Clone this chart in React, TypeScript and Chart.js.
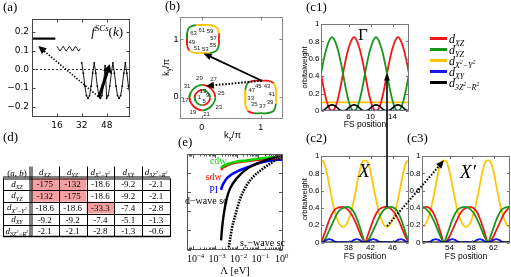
import React, { useEffect, useRef } from "react";
import { Chart, registerables } from "chart.js";

Chart.register(...registerables);

const W = 511;
const H = 277;
const SANS = '"Liberation Sans", Arial, sans-serif';
const SERIF = '"Liberation Serif", "DejaVu Serif", serif';
const DJV = '"DejaVu Sans", sans-serif';

/* ============================ DATA ============================ */

/* (a) form factor f^{SCs}(k) on the 64 Fermi-surface points (k index) */
const aBlockStart = [0, 16, 32];
const aGammaInner = [0.165, 0.165, 0.165, 0.165, 0.165, 0.165, 0.165, 0.165, 0.165, 0.165, 0.165, 0.165, 0.165, 0.165, 0.165, 0.165];
const aGammaOuter = [0.124, 0.111, 0.098, 0.111, 0.124, 0.111, 0.098, 0.111, 0.124, 0.111, 0.098, 0.111, 0.124, 0.111, 0.098, 0.111];
const aXPockets = [0.035, -0.02, -0.09, -0.14, -0.155, -0.14, -0.09, -0.02, 0.035, -0.02, -0.09, -0.14, -0.155, -0.14, -0.08, 0.02, -0.155, -0.14, -0.09, -0.02, 0.035, -0.02, -0.09, -0.14, -0.155, -0.14, -0.09, -0.02, 0.035, -0.02, -0.09, -0.14];
const aXTicks = [16, 32, 48];
const aYTicks = [-0.2, -0.1, 0, 0.1, 0.2];
const aArrowSolid = [43, -0.15, 50, 0.027];
const aArrowDotted = [44, -0.155, 4, 0.125];

/* (b) Fermi surfaces in (kx/π, ky/π), points in FS-position order */
const bGamInX = [-0.12, -0.11, -0.08, -0.04, 0.01, 0.06, 0.1, 0.13, 0.14, 0.13, 0.1, 0.06, 0.01, -0.04, -0.08, -0.11];
const bGamInY = [-0.01, -0.06, -0.1, -0.13, -0.14, -0.13, -0.1, -0.06, -0.01, 0.04, 0.08, 0.11, 0.12, 0.11, 0.08, 0.04];
const bGamInOrb = "ggggrrrrggggrrrr";
const bGamOutX = [-0.21, -0.19, -0.14, -0.07, 0.01, 0.09, 0.16, 0.21, 0.23, 0.21, 0.16, 0.09, 0.01, -0.07, -0.14, -0.19];
const bGamOutY = [-0.01, -0.09, -0.16, -0.21, -0.23, -0.21, -0.16, -0.09, -0.01, 0.07, 0.14, 0.19, 0.21, 0.19, 0.14, 0.07];
const bGamOutOrb = "rrrrggggrrrrgggg";
const bXX = [0.74, 0.74, 0.78, 0.89, 1.0, 1.11, 1.22, 1.26, 1.26, 1.26, 1.22, 1.11, 1.0, 0.89, 0.78, 0.74];
const bXY = [0.0, -0.12, -0.24, -0.28, -0.28, -0.28, -0.24, -0.12, 0.0, 0.12, 0.24, 0.28, 0.28, 0.28, 0.24, 0.12];
const bXOrb = "yyrggggyyyrrrrgy";
const bXpX = [-0.25, -0.25, -0.21, -0.1, 0.02, 0.14, 0.25, 0.29, 0.29, 0.29, 0.25, 0.14, 0.02, -0.1, -0.21, -0.25];
const bXpY = [1.0, 0.9, 0.8, 0.76, 0.76, 0.76, 0.8, 0.9, 1.0, 1.1, 1.2, 1.24, 1.24, 1.24, 1.2, 1.1];
const bXpOrb = "rryyyggrryyyyggg";
const bLabelText = ["63", "61", "59", "57", "55", "53", "51", "49", "45", "43", "41", "39", "37", "35", "33", "47", "29", "27", "25", "23", "21", "19", "17", "31", "13", "9", "5", "1"];
const bLabelX = [-0.14, 0.0, 0.14, 0.2, 0.19, 0.06, -0.08, -0.17, 0.96, 1.11, 1.19, 1.16, 1.03, 0.89, 0.83, 0.85, -0.04, 0.2, 0.33, 0.29, 0.08, -0.15, -0.28, -0.25, 0.02, 0.1, 0.04, -0.04];
const bLabelY = [1.1, 1.15, 1.14, 1.01, 0.89, 0.82, 0.84, 0.95, 0.19, 0.18, 0.04, -0.1, -0.17, -0.13, -0.02, 0.11, 0.33, 0.3, 0.06, -0.18, -0.3, -0.27, -0.06, 0.19, 0.09, 0.02, -0.08, -0.01];
const bTicks = [0, 1];
const bArrowSolid = [1.02, 0.28, 0.03, 0.75];
const bArrowDotted = [1.02, 0.28, 0.07, 0.19];

/* (c1) Γ pocket orbital weights */
const c1Pos = [1, 1.5, 2, 2.5, 3, 3.5, 4, 4.5, 5, 5.5, 6, 6.5, 7, 7.5, 8, 8.5, 9, 9.5, 10, 10.5, 11, 11.5, 12, 12.5, 13, 13.5, 14, 14.5, 15, 15.5, 16, 16.5, 17];
const c1Red = [0.43, 0.26, 0.12, 0.03, 0, 0.03, 0.12, 0.26, 0.43, 0.59, 0.72, 0.81, 0.85, 0.81, 0.72, 0.59, 0.43, 0.26, 0.12, 0.03, 0, 0.03, 0.12, 0.26, 0.43, 0.59, 0.72, 0.81, 0.85, 0.81, 0.72, 0.59, 0.43];
const c1Green = [0.43, 0.59, 0.72, 0.81, 0.85, 0.81, 0.72, 0.59, 0.43, 0.26, 0.12, 0.03, 0, 0.03, 0.12, 0.26, 0.43, 0.59, 0.72, 0.81, 0.85, 0.81, 0.72, 0.59, 0.43, 0.26, 0.12, 0.03, 0, 0.03, 0.12, 0.26, 0.43];
const c1Black = [0, 0.01, 0.035, 0.06, 0.07, 0.06, 0.035, 0.01, 0, 0.01, 0.035, 0.06, 0.07, 0.06, 0.035, 0.01, 0, 0.01, 0.035, 0.06, 0.07, 0.06, 0.035, 0.01, 0, 0.01, 0.035, 0.06, 0.07, 0.06, 0.035, 0.01, 0];
const c1FlatPos = [1, 17];
const c1Yellow = [0.1, 0.1];
const c1Blue = [0.004, 0.004];

/* (c2) X pocket */
const c2Pos = [33, 33.5, 34, 34.5, 35, 35.5, 36, 36.5, 37, 37.5, 38, 38.5, 39, 39.5, 40, 40.5, 41, 41.5, 42, 42.5, 43, 43.5, 44, 44.5, 45, 45.5, 46, 46.5, 47, 47.5, 48, 48.5, 49];
const c2Yellow = [0.95, 0.93, 0.82, 0.66, 0.5, 0.36, 0.26, 0.2, 0.18, 0.2, 0.26, 0.36, 0.5, 0.66, 0.82, 0.93, 0.95, 0.93, 0.82, 0.66, 0.5, 0.36, 0.26, 0.2, 0.18, 0.2, 0.26, 0.36, 0.5, 0.66, 0.82, 0.93, 0.95];
const c2Red = [0, 0.08, 0.17, 0.26, 0.33, 0.38, 0.4, 0.41, 0.41, 0.4, 0.37, 0.33, 0.27, 0.2, 0.12, 0.05, 0, 0.08, 0.17, 0.26, 0.33, 0.38, 0.4, 0.41, 0.41, 0.4, 0.37, 0.33, 0.27, 0.2, 0.12, 0.05, 0];
const c2Green = [0, 0.02, 0.07, 0.14, 0.21, 0.28, 0.34, 0.38, 0.4, 0.41, 0.41, 0.39, 0.35, 0.28, 0.19, 0.09, 0, 0.02, 0.07, 0.14, 0.21, 0.28, 0.34, 0.38, 0.4, 0.41, 0.41, 0.39, 0.35, 0.28, 0.19, 0.09, 0];
const c2Blue = [0.003, 0.01, 0.03, 0.04, 0.03, 0.01, 0.003, 0.003, 0.003, 0.003, 0.003, 0.01, 0.03, 0.04, 0.03, 0.01, 0.003, 0.01, 0.03, 0.04, 0.03, 0.01, 0.003, 0.003, 0.003, 0.003, 0.003, 0.01, 0.03, 0.04, 0.03, 0.01, 0.003];
const c2FlatPos = [33, 49];
const c2Black = [0.003, 0.003];

/* (c3) X' pocket */
const c3Pos = [49, 49.5, 50, 50.5, 51, 51.5, 52, 52.5, 53, 53.5, 54, 54.5, 55, 55.5, 56, 56.5, 57, 57.5, 58, 58.5, 59, 59.5, 60, 60.5, 61, 61.5, 62, 62.5, 63, 63.5, 64, 64.5, 65];
const c3Yellow = [0.18, 0.2, 0.26, 0.36, 0.5, 0.66, 0.82, 0.93, 0.95, 0.93, 0.82, 0.66, 0.5, 0.36, 0.26, 0.2, 0.18, 0.2, 0.26, 0.36, 0.5, 0.66, 0.82, 0.93, 0.95, 0.93, 0.82, 0.66, 0.5, 0.36, 0.26, 0.2, 0.18];
const c3Green = [0.41, 0.4, 0.37, 0.33, 0.27, 0.2, 0.12, 0.05, 0, 0.08, 0.17, 0.26, 0.33, 0.38, 0.4, 0.41, 0.41, 0.4, 0.37, 0.33, 0.27, 0.2, 0.12, 0.05, 0, 0.08, 0.17, 0.26, 0.33, 0.38, 0.4, 0.41, 0.41];
const c3Red = [0.4, 0.41, 0.41, 0.39, 0.35, 0.28, 0.19, 0.09, 0, 0.02, 0.07, 0.14, 0.21, 0.28, 0.34, 0.38, 0.4, 0.41, 0.41, 0.39, 0.35, 0.28, 0.19, 0.09, 0, 0.02, 0.07, 0.14, 0.21, 0.28, 0.34, 0.38, 0.4];
const c3Blue = [0.003, 0.003, 0.003, 0.01, 0.03, 0.04, 0.03, 0.01, 0.003, 0.01, 0.03, 0.04, 0.03, 0.01, 0.003, 0.003, 0.003, 0.003, 0.003, 0.01, 0.03, 0.04, 0.03, 0.01, 0.003, 0.01, 0.03, 0.04, 0.03, 0.01, 0.003, 0.003, 0.003];
const c3FlatPos = [49, 65];
const c3Black = [0.003, 0.003];

const cYTicks = [0, 0.2, 0.4, 0.6, 0.8, 1];
const c1XTicks = [6, 10, 14];
const c2XTicks = [38, 42, 46];
const c3XTicks = [54, 58, 62];
const cArrowSolid = [45, 0.41, 13, 0.43]; // c2 -> c1
const cArrowDotted = [45, 0.19, 53, 0.95]; // c2 -> c3

/* (d) interaction table (a,b) */
const tRowXZ = [-175, -132, -18.6, -9.2, -2.1];
const tRowYZ = [-132, -175, -18.6, -9.2, -2.1];
const tRowX2Y2 = [-18.6, -18.6, -33.3, -7.4, -2.8];
const tRowXY = [-9.2, -9.2, -7.4, -5.1, -1.3];
const tRow3Z2R2 = [-2.1, -2.1, -2.8, -1.3, -0.6];
const tHighlight = [
  [1, 1, 0, 0, 0],
  [1, 1, 0, 0, 0],
  [0, 0, 1, 0, 0],
  [0, 0, 0, 0, 0],
  [0, 0, 0, 0, 0],
];

/* (e) flows vs Λ [eV] */
const eLamCdw = [0.0019, 0.0022, 0.003, 0.005, 0.01, 0.03, 0.1, 0.36, 1.38];
const eCdw = [4.26, 4.35, 4.43, 4.52, 4.61, 4.66, 4.75, 4.82, 4.86];
const eLamSdw = [0.0019, 0.0022, 0.003, 0.005, 0.01, 0.03, 0.1, 0.36, 1.38];
const eSdw = [4.17, 4.27, 4.36, 4.47, 4.57, 4.63, 4.7, 4.76, 4.8];
const eLamPI = [0.0019, 0.0021, 0.0025, 0.0035, 0.006, 0.0102, 0.03, 0.1, 0.36, 1.38];
const ePI = [3.12, 3.3, 3.47, 3.73, 3.94, 4.08, 4.29, 4.52, 4.66, 4.72];
const eLamD = [0.0019, 0.0021, 0.0025, 0.0035, 0.005, 0.0102, 0.03, 0.1, 0.36, 1.38];
const eD = [0.48, 1.09, 1.8, 2.68, 3.2, 3.73, 4.22, 4.52, 4.75, 4.96];
const eLamS = [0.0043, 0.005, 0.006, 0.0087, 0.0148, 0.03, 0.06, 0.178, 0.51, 1.38];
const eS = [0.12, 0.56, 1.09, 1.8, 2.68, 3.38, 3.82, 4.26, 4.61, 4.88];
const eXTicks = [0.0001, 0.001, 0.01, 0.1, 1];
const eXTickExp = ["−4", "−3", "−2", "−1", "0"];
const eDecades = [0.00001, 0.0001, 0.001, 0.01, 0.1, 1];
const eMinorMult = [2, 3, 4, 5, 6, 7, 8, 9];
const eYTicks = [0, 1, 2, 3, 4, 5];
const eLabelText = ["cdw", "sdw", "PI", "d−wave sc"];
const eLabelLam = [0.0014, 0.00087, 0.00086, 0.00039];
const eLabelY = [4.62, 3.79, 3.12, 2.54];
const eSLabelLam = 0.158;
const eSLabelY = 0.39;

/* ============================ STYLE ============================ */
const C_RED = "rgb(238,24,24)";
const C_GREEN = "rgb(24,150,24)";
const C_YEL = "rgb(255,198,0)";
const C_BLUE = "rgb(24,24,235)";
const C_BLK = "#000";
const POCKET_COL: any = { r: "rgb(235,25,25)", g: "rgb(25,150,25)", y: "rgb(255,195,0)" };
const E_GREEN = "rgb(0,215,0)";
const E_RED = "rgb(255,0,0)";
const E_BLUE = "rgb(0,0,255)";

const A_AREA = { l: 32, t: 19, r: 130, b: 117 };
const B_AREA = { l: 180, t: 17, r: 283, b: 119 };
const C1_AREA = { l: 321, t: 24, r: 409, b: 111 };
const C2_AREA = { l: 321, t: 156, r: 409, b: 242.5 };
const C3_AREA = { l: 422, t: 156, r: 510, b: 242.5 };
const E_AREA = { l: 187, t: 154, r: 283, b: 249.5 };
const T_AREA = { l: 3, t: 166.5, r: 170, b: 237 };

type Seg = [string, number, boolean?];
const ORB_LABEL: Seg[][] = [
  [["d", 0], ["XZ", 1]],
  [["d", 0], ["YZ", 1]],
  [["d", 0], ["X", 1], ["2", 2], ["−Y", 1], ["2", 2]],
  [["d", 0], ["XY", 1]],
  [["d", 0], ["3Z", 1], ["2", 2], ["−R", 1], ["2", 2]],
];
const LEGEND_COLORS = [C_RED, C_GREEN, C_YEL, C_BLUE, C_BLK];

const REG: any = {};

/* ============================ HELPERS ============================ */
function richSpec(level: number, base: number): [number, number] {
  if (level === 1) return [base * 0.66, base * 0.28];
  if (level === 2) return [base * 0.48, -base * 0.05];
  if (level === 3) return [base * 0.68, -base * 0.42];
  return [base, 0];
}

function drawRich(ctx: any, segs: Seg[], x: number, y: number, base: number, align: string, italic = true, family = SERIF, color = "#000") {
  const fontOf = (s: Seg) => {
    const [sz] = richSpec(s[1], base);
    const it = italic && !s[2] ? "italic " : "";
    return `${it}${sz}px ${family}`;
  };
  let w = 0;
  for (const s of segs) {
    ctx.font = fontOf(s);
    w += ctx.measureText(s[0]).width;
  }
  let cx = align === "center" ? x - w / 2 : align === "right" ? x - w : x;
  ctx.textAlign = "left";
  ctx.textBaseline = "alphabetic";
  ctx.fillStyle = color;
  for (const s of segs) {
    const [, dy] = richSpec(s[1], base);
    ctx.font = fontOf(s);
    ctx.fillText(s[0], cx, y + dy);
    cx += ctx.measureText(s[0]).width;
  }
}

function drawArrow(ctx: any, x0: number, y0: number, x1: number, y1: number, lw: number, dash: number[], hl: number, hw: number, color = "#000") {
  const a = Math.atan2(y1 - y0, x1 - x0);
  const c = Math.cos(a);
  const s = Math.sin(a);
  const bx = x1 - hl * c;
  const by = y1 - hl * s;
  ctx.save();
  ctx.strokeStyle = color;
  ctx.fillStyle = color;
  ctx.lineWidth = lw;
  ctx.setLineDash(dash);
  ctx.beginPath();
  ctx.moveTo(x0, y0);
  ctx.lineTo(bx + 0.5 * c, by + 0.5 * s);
  ctx.stroke();
  ctx.setLineDash([]);
  ctx.beginPath();
  ctx.moveTo(x1, y1);
  ctx.lineTo(bx - hw * s, by + hw * c);
  ctx.lineTo(bx + hw * s, by - hw * c);
  ctx.closePath();
  ctx.fill();
  ctx.restore();
}

function axis(o: any) {
  return {
    type: o.type ?? "linear",
    min: o.min,
    max: o.max,
    reverse: !!o.reverse,
    grid: { display: false, drawTicks: false },
    border: { display: false },
    ticks: {
      display: o.show !== false,
      font: o.font,
      color: "#000",
      padding: o.pad ?? 2,
      maxRotation: 0,
      minRotation: 0,
      autoSkip: false,
      callback: (v: any) => (o.fmt ? o.fmt(Number(v)) : String(v)),
    },
    afterBuildTicks: (s: any) => {
      s.ticks = o.ticks.map((v: number) => ({ value: v }));
    },
    afterFit: (s: any) => {
      if (o.isX) s.height = o.size;
      else s.width = o.size;
    },
  };
}

function framePlugin(id: string, color: string, o: any) {
  return {
    id,
    afterDatasetsDraw(chart: any) {
      const { ctx, chartArea: a } = chart;
      const xs = chart.scales.x;
      const ys = chart.scales.y;
      const L = Math.round(a.left) + 0.5;
      const R = Math.round(a.right) - 0.5;
      const T = Math.round(a.top) + 0.5;
      const B = Math.round(a.bottom) - 0.5;
      const len = o.len ?? 3;
      const ml = o.mlen ?? 1.8;
      ctx.save();
      ctx.setLineDash([]);
      ctx.strokeStyle = color;
      ctx.lineWidth = 1;
      ctx.strokeRect(L, T, R - L, B - T);
      ctx.beginPath();
      (o.xt ?? []).forEach((v: number) => {
        const p = Math.round(xs.getPixelForValue(v)) + 0.5;
        ctx.moveTo(p, B);
        ctx.lineTo(p, B - len);
        ctx.moveTo(p, T);
        ctx.lineTo(p, T + len);
      });
      (o.xm ?? []).forEach((v: number) => {
        const p = Math.round(xs.getPixelForValue(v)) + 0.5;
        if (p <= L + 1 || p >= R - 1) return;
        ctx.moveTo(p, B);
        ctx.lineTo(p, B - ml);
        ctx.moveTo(p, T);
        ctx.lineTo(p, T + ml);
      });
      (o.yt ?? []).forEach((v: number) => {
        const p = Math.round(ys.getPixelForValue(v)) + 0.5;
        ctx.moveTo(L, p);
        ctx.lineTo(L + len, p);
        ctx.moveTo(R, p);
        ctx.lineTo(R - len, p);
      });
      ctx.stroke();
      ctx.restore();
    },
  };
}

function baseOptions(area: any, yW: number, xH: number, scales: any) {
  return {
    animation: false,
    responsive: false,
    maintainAspectRatio: false,
    events: [],
    layout: { padding: { left: area.l - yW, top: area.t, right: W - area.r, bottom: H - area.b - xH } },
    plugins: { legend: { display: false }, tooltip: { enabled: false }, title: { display: false } },
    elements: { point: { radius: 0, hoverRadius: 0 }, line: { borderWidth: 1.8, fill: false } },
    scales,
  };
}

function series(xs: number[], ys: number[], color: string, width: number, extra: any = {}) {
  return {
    data: xs.map((x, i) => ({ x, y: ys[i] })),
    borderColor: color,
    backgroundColor: color,
    borderWidth: width,
    showLine: true,
    pointRadius: 0,
    tension: 0,
    ...extra,
  };
}

function pocket(xs: number[], ys: number[], orb: string) {
  const n = xs.length;
  const idx = [n - 1, ...xs.map((_, i) => i), 0, 1];
  return {
    data: idx.map((i) => ({ x: xs[i], y: ys[i] })),
    showLine: true,
    pointRadius: 0,
    borderWidth: 1.8,
    tension: 0.4,
    borderColor: POCKET_COL.y,
    segment: { borderColor: (c: any) => POCKET_COL[orb[idx[c.p0DataIndex]]] },
  };
}

/* ============================ PANELS ============================ */
function cfgA(): any {
  const kOf = (start: number, arr: number[]) => arr.map((_, i) => start + i);
  const fmtA = (v: number) => (v < 0 ? "−" : "") + Math.abs(v).toFixed(1);
  const font = { family: DJV, size: 9 };
  return {
    type: "scatter",
    data: {
      datasets: [
        series(kOf(aBlockStart[2], aXPockets), aXPockets, "#000", 0.9, { pointRadius: 0.9, pointBorderWidth: 0, pointBackgroundColor: "#000" }),
        series(kOf(aBlockStart[1], aGammaOuter), aGammaOuter, "#000", 0.9),
        series(kOf(aBlockStart[0], aGammaInner), aGammaInner, "#000", 2.2),
        series([0, 63], [0, 0], "#000", 0.8, { borderDash: [2, 2] }),
      ],
    },
    options: baseOptions(A_AREA, 30, 20, {
      x: axis({ min: 0, max: 63, ticks: aXTicks, font, pad: 3, size: 20, isX: true }),
      y: axis({ min: -0.255, max: 0.27, ticks: aYTicks, fmt: fmtA, font, pad: 3, size: 30, isX: false }),
    }),
    plugins: [
      framePlugin("frameA", "#444", { xt: aXTicks, yt: aYTicks, len: 3 }),
      {
        id: "annA",
        afterDatasetsDraw(chart: any) {
          const { ctx, chartArea: a } = chart;
          const xs = chart.scales.x;
          const ys = chart.scales.y;
          const P = (k: number, v: number) => [xs.getPixelForValue(k), ys.getPixelForValue(v)];
          const [d0x, d0y] = P(aArrowDotted[0], aArrowDotted[1]);
          const [d1x, d1y] = P(aArrowDotted[2], aArrowDotted[3]);
          drawArrow(ctx, d0x, d0y, d1x, d1y, 1.6, [1.4, 1.6], 8, 3.8);
          const [s0x, s0y] = P(aArrowSolid[0], aArrowSolid[1]);
          const [s1x, s1y] = P(aArrowSolid[2], aArrowSolid[3]);
          drawArrow(ctx, s0x, s0y, s1x, s1y, 3, [], 8, 4.5);
          drawRich(ctx, [["f", 0], ["SCs", 3], ["(", 0, true], ["k", 0], [")", 0, true]], a.right - 7, a.top + 17, 13, "right");
        },
      },
    ],
  };
}

function cfgB(): any {
  const font = { family: SANS, size: 9 };
  return {
    type: "scatter",
    data: {
      datasets: [pocket(bGamInX, bGamInY, bGamInOrb), pocket(bGamOutX, bGamOutY, bGamOutOrb), pocket(bXX, bXY, bXOrb), pocket(bXpX, bXpY, bXpOrb)],
    },
    options: baseOptions(B_AREA, 20, 20, {
      x: axis({ min: -0.37, max: 1.38, ticks: bTicks, font, pad: 3.5, size: 20, isX: true }),
      y: axis({ min: -0.38, max: 1.38, ticks: bTicks, font, pad: 1.5, size: 20, isX: false }),
    }),
    plugins: [
      framePlugin("frameB", "#888", { xt: bTicks, yt: bTicks, len: 3 }),
      {
        id: "annB",
        afterDatasetsDraw(chart: any) {
          const { ctx, chartArea: a } = chart;
          const xs = chart.scales.x;
          const ys = chart.scales.y;
          ctx.save();
          ctx.font = `6px ${SANS}`;
          ctx.fillStyle = "#222";
          ctx.textAlign = "center";
          ctx.textBaseline = "middle";
          bLabelText.forEach((t, i) => ctx.fillText(t, xs.getPixelForValue(bLabelX[i]), ys.getPixelForValue(bLabelY[i])));
          ctx.restore();
          drawArrow(ctx, xs.getPixelForValue(bArrowDotted[0]), ys.getPixelForValue(bArrowDotted[1]), xs.getPixelForValue(bArrowDotted[2]), ys.getPixelForValue(bArrowDotted[3]), 2, [1.6, 1.6], 8, 3.5);
          drawArrow(ctx, xs.getPixelForValue(bArrowSolid[0]), ys.getPixelForValue(bArrowSolid[1]), xs.getPixelForValue(bArrowSolid[2]), ys.getPixelForValue(bArrowSolid[3]), 1.8, [], 8, 3.5);
          drawRich(ctx, [["k", 0, true], ["x", 1, true], ["/π", 0, true]], (a.left + a.right) / 2 + 1, a.bottom + 19, 9.5, "center", false, SANS);
          ctx.save();
          ctx.translate(a.left - 14.5, (a.top + a.bottom) / 2 - 0.5);
          ctx.rotate(-Math.PI / 2);
          drawRich(ctx, [["k", 0, true], ["y", 1, true], ["/π", 0, true]], 0, 3.2, 9.5, "center", false, SANS);
          ctx.restore();
        },
      },
    ],
  };
}

function cfgC(area: any, xmin: number, xmax: number, xt: number[], ser: any, yTitle: boolean, extra: (chart: any) => void): any {
  const fmtY = (v: number) => (v === 0 ? "0" : v === 1 ? "1" : v.toFixed(1));
  const font = { family: SANS, size: 8 };
  return {
    type: "scatter",
    data: {
      datasets: [
        series(ser.blackPos, ser.black, C_BLK, 1.6, { tension: 0.35 }),
        series(ser.bluePos, ser.blue, C_BLUE, 1.8, { tension: 0.35 }),
        series(ser.pos, ser.green, C_GREEN, 1.8, { tension: 0.35 }),
        series(ser.pos, ser.red, C_RED, 1.8, { tension: 0.35 }),
        series(ser.yellowPos, ser.yellow, C_YEL, 1.8, { tension: 0.35 }),
      ],
    },
    options: baseOptions(area, 30, 14, {
      x: axis({ min: xmin, max: xmax, ticks: xt, font, pad: 0.5, size: 14, isX: true }),
      y: axis({ min: 0, max: 1, ticks: cYTicks, fmt: fmtY, font, pad: 1.5, size: 30, isX: false }),
    }),
    plugins: [
      framePlugin("frameC" + xmin, "#777", { xt, yt: cYTicks, len: 2.5 }),
      {
        id: "annC" + xmin,
        afterDraw(chart: any) {
          const { ctx, chartArea: a } = chart;
          ctx.save();
          ctx.fillStyle = "#000";
          ctx.font = `8.5px ${SANS}`;
          ctx.textAlign = "center";
          ctx.textBaseline = "alphabetic";
          ctx.fillText("FS position", (a.left + a.right) / 2, a.bottom + 16);
          if (yTitle) {
            ctx.translate(a.left - 16.7, (a.top + a.bottom) / 2);
            ctx.rotate(-Math.PI / 2);
            ctx.font = `7.5px ${SANS}`;
            ctx.fillText("orbitalweight", 0, 2.7);
          }
          ctx.restore();
          extra(chart);
        },
      },
    ],
  };
}

function cfgE(): any {
  const mono = { cubicInterpolationMode: "monotone" };
  const minor: number[] = [];
  eDecades.forEach((d) => eMinorMult.forEach((m) => minor.push(d * m)));
  return {
    type: "scatter",
    data: {
      datasets: [
        series(eLamD, eD, "#000", 2.4, mono),
        series(eLamS, eS, "#000", 2.6, { ...mono, borderDash: [1.6, 1.2] }),
        series(eLamCdw, eCdw, E_GREEN, 2.6, mono),
        series(eLamSdw, eSdw, E_RED, 2.6, mono),
        series(eLamPI, ePI, E_BLUE, 2.6, mono),
      ],
    },
    options: baseOptions(E_AREA, 10, 27.5, {
      x: axis({ type: "logarithmic", min: 0.00005, max: 1.41, ticks: eXTicks, show: false, size: 27.5, isX: true }),
      y: axis({ min: 0, max: 5, ticks: eYTicks, show: false, size: 10, isX: false }),
    }),
    plugins: [
      framePlugin("frameE", "#555", { xt: eXTicks, xm: minor, yt: eYTicks, len: 3.5, mlen: 2 }),
      {
        id: "annE",
        afterDatasetsDraw(chart: any) {
          const { ctx, chartArea: a } = chart;
          const xs = chart.scales.x;
          const ys = chart.scales.y;
          eXTicks.forEach((v, i) => {
            drawRich(ctx, [["10", 0, true], [eXTickExp[i], 3, true]], xs.getPixelForValue(v) + 2, a.bottom + 12.5, 10, "center", false);
          });
          ctx.save();
          ctx.fillStyle = "#000";
          ctx.font = `10.5px ${SERIF}`;
          ctx.textAlign = "center";
          ctx.textBaseline = "alphabetic";
          ctx.fillText("Λ [eV]", (a.left + a.right) / 2, a.bottom + 24.5);
          const cols = [E_GREEN, E_RED, E_BLUE, "#000"];
          ctx.font = `10px ${SERIF}`;
          ctx.textBaseline = "middle";
          eLabelText.forEach((t, i) => {
            ctx.fillStyle = cols[i];
            ctx.fillText(t, xs.getPixelForValue(eLabelLam[i]), ys.getPixelForValue(eLabelY[i]));
          });
          ctx.restore();
          drawRich(ctx, [["s", 0, true], ["±", 1, true], ["−wave sc", 0, true]], xs.getPixelForValue(eSLabelLam), ys.getPixelForValue(eSLabelY) + 3.5, 10, "center", false);
        },
      },
    ],
  };
}

function cfgT(): any {
  const rows = [tRowXZ, tRowYZ, tRowX2Y2, tRowXY, tRow3Z2R2];
  const cells: any[] = [];
  rows.forEach((row, r) => row.forEach((v, c) => cells.push({ x: c + 1.5, y: r + 1.5, v, hl: tHighlight[r][c] })));
  return {
    type: "scatter",
    data: { datasets: [{ data: cells, pointRadius: 0, showLine: false }] },
    options: baseOptions(T_AREA, 0, 0, {
      x: { type: "linear", min: 0, max: 6, display: false },
      y: { type: "linear", min: 0, max: 6, reverse: true, display: false },
    }),
    plugins: [
      {
        id: "table",
        afterDatasetsDraw(chart: any) {
          const { ctx } = chart;
          const xs = chart.scales.x;
          const ys = chart.scales.y;
          const px = (c: number) => xs.getPixelForValue(c);
          const py = (r: number) => ys.getPixelForValue(r);
          const meta = chart.getDatasetMeta(0);
          const data = chart.data.datasets[0].data;
          ctx.save();
          ctx.fillStyle = "rgb(245,160,160)";
          data.forEach((d: any) => {
            if (d.hl) ctx.fillRect(px(d.x - 0.5), py(d.y - 0.5), px(d.x + 0.5) - px(d.x - 0.5), py(d.y + 0.5) - py(d.y - 0.5));
          });
          ctx.strokeStyle = "#000";
          ctx.lineWidth = 1;
          ctx.beginPath();
          const R = (v: number) => Math.round(v) + 0.5;
          for (let c = 2; c <= 5; c++) {
            ctx.moveTo(R(px(c)), py(0));
            ctx.lineTo(R(px(c)), py(6));
          }
          ctx.moveTo(R(px(1)) - 1.5, py(0));
          ctx.lineTo(R(px(1)) - 1.5, py(6));
          ctx.moveTo(R(px(1)) + 0.5, py(0));
          ctx.lineTo(R(px(1)) + 0.5, py(6));
          ctx.moveTo(R(px(0)), py(1));
          ctx.lineTo(R(px(0)), py(6));
          ctx.moveTo(R(px(6)), py(1));
          ctx.lineTo(R(px(6)), py(6));
          ctx.moveTo(px(0), R(py(1)) - 1.5);
          ctx.lineTo(px(6), R(py(1)) - 1.5);
          ctx.moveTo(px(0), R(py(1)) + 0.5);
          ctx.lineTo(px(6), R(py(1)) + 0.5);
          for (let r = 2; r <= 5; r++) {
            ctx.moveTo(px(0), R(py(r)));
            ctx.lineTo(px(6), R(py(r)));
          }
          ctx.stroke();
          ctx.lineWidth = 1.6;
          ctx.beginPath();
          ctx.moveTo(px(0), py(6) - 0.5);
          ctx.lineTo(px(6), py(6) - 0.5);
          ctx.stroke();
          ctx.fillStyle = "#000";
          ctx.font = `9px ${SERIF}`;
          ctx.textAlign = "center";
          ctx.textBaseline = "alphabetic";
          meta.data.forEach((el: any, i: number) => ctx.fillText(String(data[i].v), el.x, el.y + 3.2));
          ctx.restore();
          drawRich(ctx, [["(", 0, true], ["a", 0], [", ", 0, true], ["b", 0], [")", 0, true]], px(0.5), py(0.5) + 3.5, 9, "center");
          for (let c = 0; c < 5; c++) drawRich(ctx, ORB_LABEL[c], px(c + 1.5), py(0.5) + 2.5, 9, "center");
          for (let r = 0; r < 5; r++) drawRich(ctx, ORB_LABEL[r], px(0.5), py(r + 1.5) + 2.5, 9, "center");
        },
      },
    ],
  };
}

const PANEL_LABELS: [string, number, number][] = [
  ["(a)", 3, 10.5],
  ["(b)", 165, 9.5],
  ["(c1)", 306, 10.5],
  ["(c2)", 306, 142],
  ["(c3)", 407, 142],
  ["(d)", 3, 141],
  ["(e)", 178, 146],
];

function extraC1(chart: any) {
  const { ctx, chartArea: a } = chart;
  ctx.save();
  ctx.fillStyle = "#000";
  ctx.font = `17px ${SERIF}`;
  ctx.textAlign = "center";
  ctx.textBaseline = "alphabetic";
  ctx.fillText("Γ", a.left + 42, a.top + 16);
  ORB_LABEL.forEach((lab, i) => {
    const y = a.top + 14.5 + i * 11;
    ctx.strokeStyle = LEGEND_COLORS[i];
    ctx.lineWidth = 3;
    ctx.beginPath();
    ctx.moveTo(a.right + 21, y);
    ctx.lineTo(a.right + 38, y);
    ctx.stroke();
  });
  ctx.restore();
  ORB_LABEL.forEach((lab, i) => drawRich(ctx, lab, a.right + 40, a.top + 18.5 + i * 11, 12, "left"));
}

function extraC2(chart: any) {
  const { ctx, chartArea: a } = chart;
  ctx.save();
  ctx.fillStyle = "#000";
  ctx.font = `italic 19px ${SERIF}`;
  ctx.textAlign = "center";
  ctx.textBaseline = "alphabetic";
  ctx.fillText("X", a.left + 43, a.top + 21);
  ctx.restore();
}

function extraC3(chart: any) {
  const { ctx, chartArea: a } = chart;
  ctx.save();
  ctx.fillStyle = "#000";
  ctx.font = `italic 19px ${SERIF}`;
  ctx.textAlign = "center";
  ctx.textBaseline = "alphabetic";
  ctx.fillText("X′", a.left + 46, a.top + 22);
  ctx.restore();
  const c1 = REG.c1;
  const c2 = REG.c2;
  if (c1 && c2) {
    drawArrow(ctx, c2.scales.x.getPixelForValue(cArrowSolid[0]), c2.scales.y.getPixelForValue(cArrowSolid[1]), c1.scales.x.getPixelForValue(cArrowSolid[2]), c1.scales.y.getPixelForValue(cArrowSolid[3]), 1.6, [], 7, 3);
    drawArrow(ctx, c2.scales.x.getPixelForValue(cArrowDotted[0]), c2.scales.y.getPixelForValue(cArrowDotted[1]), chart.scales.x.getPixelForValue(cArrowDotted[2]), chart.scales.y.getPixelForValue(cArrowDotted[3]), 2, [1.6, 1.6], 8, 3.5);
  }
  ctx.save();
  ctx.fillStyle = "#000";
  ctx.font = `13px ${SERIF}`;
  ctx.textAlign = "left";
  ctx.textBaseline = "alphabetic";
  PANEL_LABELS.forEach(([t, x, y]) => ctx.fillText(t, x, y));
  ctx.restore();
}

export default function App() {
  const refs = useRef<(HTMLCanvasElement | null)[]>([]);
  useEffect(() => {
    document.body.style.margin = "0";
    const cv = refs.current;
    const charts: any[] = [];
    charts.push(new Chart(cv[0] as any, cfgA()));
    charts.push(new Chart(cv[1] as any, cfgB()));
    charts.push(new Chart(cv[2] as any, cfgT()));
    charts.push(new Chart(cv[3] as any, cfgE()));
    REG.c1 = new Chart(
      cv[4] as any,
      cfgC(C1_AREA, 1, 17, c1XTicks, { pos: c1Pos, red: c1Red, green: c1Green, blackPos: c1Pos, black: c1Black, bluePos: c1FlatPos, blue: c1Blue, yellowPos: c1FlatPos, yellow: c1Yellow }, true, extraC1)
    );
    charts.push(REG.c1);
    REG.c2 = new Chart(
      cv[5] as any,
      cfgC(C2_AREA, 33, 49, c2XTicks, { pos: c2Pos, red: c2Red, green: c2Green, blackPos: c2FlatPos, black: c2Black, bluePos: c2Pos, blue: c2Blue, yellowPos: c2Pos, yellow: c2Yellow }, true, extraC2)
    );
    charts.push(REG.c2);
    charts.push(
      new Chart(
        cv[6] as any,
        cfgC(C3_AREA, 49, 65, c3XTicks, { pos: c3Pos, red: c3Red, green: c3Green, blackPos: c3FlatPos, black: c3Black, bluePos: c3Pos, blue: c3Blue, yellowPos: c3Pos, yellow: c3Yellow }, false, extraC3)
      )
    );
    return () => {
      charts.forEach((c) => c.destroy());
      REG.c1 = null;
      REG.c2 = null;
    };
  }, []);
  return (
    <div style={{ position: "absolute", left: 0, top: 0, width: W, height: H, background: "#fff", overflow: "hidden" }}>
      {[0, 1, 2, 3, 4, 5, 6].map((i) => (
        <canvas
          key={i}
          ref={(el) => {
            refs.current[i] = el;
          }}
          width={W}
          height={H}
          style={{ position: "absolute", left: 0, top: 0, width: W, height: H }}
        />
      ))}
    </div>
  );
}
